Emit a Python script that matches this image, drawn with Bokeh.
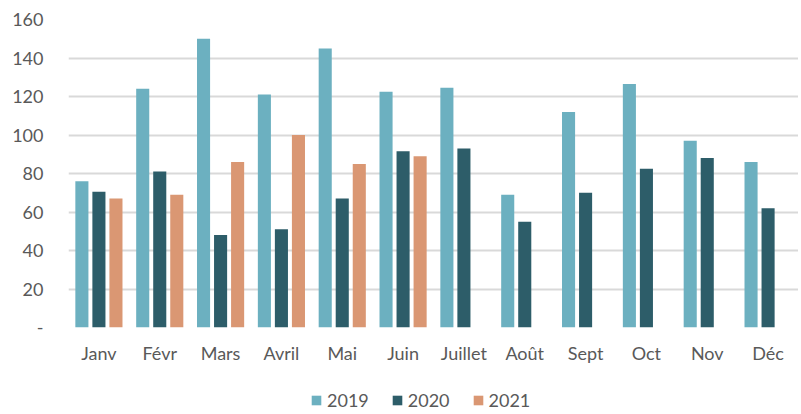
from bokeh.plotting import figure
from bokeh.models import ColumnDataSource, FactorRange, Range1d, Legend, LegendItem, FixedTicker
from bokeh.layouts import column
from bokeh.transform import dodge
from bokeh.embed import file_html
from bokeh.resources import INLINE

months = ["Janv", "Févr", "Mars", "Avril", "Mai", "Juin", "Juillet", "Août", "Sept", "Oct", "Nov", "Déc"]
v2019 = [76, 124, 150, 121, 145, 122.5, 124.5, 69, 112, 126.5, 97, 86]
v2020 = [70.5, 81, 48, 51, 67, 91.5, 93, 55, 70, 82.5, 88, 62]
v2021 = [67, 69, 86, 100, 85, 89]
series = ["2019", "2020", "2021"]
colors = ["#6CB0C0", "#2D5D69", "#DA9773"]

FONT = "Lato"
LABEL_COLOR = "#595959"

p = figure(x_range=FactorRange(*months, range_padding=0), y_range=Range1d(0, 160),
           output_backend="svg", toolbar_location=None,
           frame_width=730, frame_height=308,
           min_border_left=68, min_border_top=19, min_border_right=0, min_border_bottom=41,
           outline_line_color=None)

src19 = ColumnDataSource(dict(m=months, v=v2019))
src20 = ColumnDataSource(dict(m=months, v=v2020))
src21 = ColumnDataSource(dict(m=months[:len(v2021)], v=v2021))

w = 0.215
off = 0.28
p.vbar(x=dodge("m", -off, range=p.x_range), top="v", width=w, source=src19,
       fill_color=colors[0], line_color=None)
p.vbar(x=dodge("m", 0, range=p.x_range), top="v", width=w, source=src20,
       fill_color=colors[1], line_color=None)
p.vbar(x=dodge("m", off, range=p.x_range), top="v", width=w, source=src21,
       fill_color=colors[2], line_color=None)

p.xgrid.grid_line_color = None
p.ygrid.grid_line_color = "#D9D9D9"
p.ygrid.grid_line_width = 2
p.yaxis.ticker = FixedTicker(ticks=[0, 20, 40, 60, 80, 100, 120, 140, 160])
p.yaxis.major_label_overrides = {0: "-"}

for ax in (p.xaxis, p.yaxis):
    ax.axis_line_color = None
    ax.major_tick_line_color = None
    ax.minor_tick_line_color = None
    ax.major_label_text_font = FONT
    ax.major_label_text_font_size = "18px"
    ax.major_label_text_color = LABEL_COLOR

p.yaxis.major_label_standoff = 19
p.xaxis.major_label_standoff = 8

# Legend in a separate strip below the chart; its swatch renderers sit outside the visible range
lg = figure(width=798, height=46, output_backend="svg", toolbar_location=None,
            min_border=0, outline_line_color=None,
            x_range=Range1d(0, 1), y_range=Range1d(0, 1))
lg.axis.visible = False
lg.grid.grid_line_color = None
renderers = [lg.vbar(x=[-10], top=[-10], width=1, fill_color=c, line_color=None) for c in colors]
legend = Legend(items=[LegendItem(label=s, renderers=[r]) for s, r in zip(series, renderers)],
                orientation="horizontal", location=(242, 3),
                label_text_font=FONT, label_text_font_size="18px", label_text_color=LABEL_COLOR,
                glyph_width=12, glyph_height=12, spacing=22, label_standoff=5,
                border_line_color=None, background_fill_alpha=0, margin=0, padding=0)
lg.add_layout(legend, "center")

layout = column(p, lg, spacing=0)
open("out.html", "w").write(file_html(layout, INLINE))
